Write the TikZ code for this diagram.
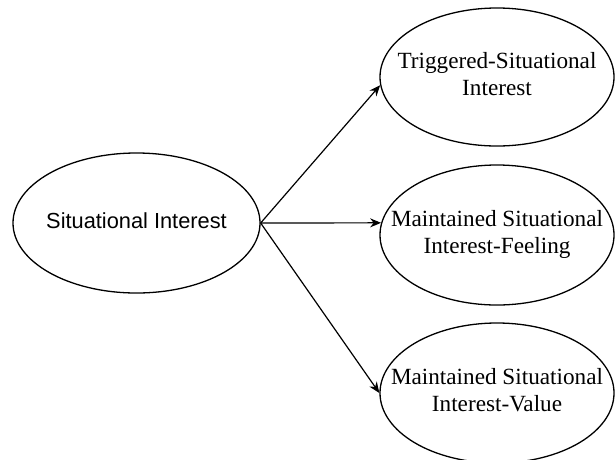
\documentclass[tikz,border=0pt]{standalone}
\usepackage{fontspec}
\setmainfont{Liberation Serif}
\newfontfamily\arialfont{Liberation Sans}
\usetikzlibrary{shapes.geometric,arrows.meta}

% text of a fixed-size ellipse, kept out of the shape size
\newcommand{\ovaltext}[1]{\makebox[0pt]{\begin{tabular}{@{}c@{}}#1\end{tabular}}}

\tikzset{
  interest/.style={draw,ellipse,line width=1.3pt,inner sep=0pt,minimum width=234pt,minimum height=138pt,
    font=\fontsize{23.2}{27}\selectfont},
  link/.style={line width=1.2pt,-{Stealth[length=11pt,width=9pt]}}
}

\begin{document}
\begin{tikzpicture}[x=1pt,y=-1pt]
            \useasboundingbox (0,0) rectangle (615,459);
            \node[interest,minimum width=247pt,minimum height=140pt,font=\arialfont\fontsize{21.8}{25}\selectfont] (sit) at (136.5,223) {\ovaltext{Situational Interest}};
            \node[interest] (trig) at (497,77) {\ovaltext{Triggered-Situational\\Interest}};
            \node[interest,minimum height=140pt] (feel) at (497,235) {\ovaltext{Maintained Situational\\Interest-Feeling}};
            \node[interest,minimum height=140pt] (value) at (497,393) {\ovaltext{Maintained Situational\\Interest-Value}};
            \draw[link] (sit.east) -- (trig.184);
            \draw[link] (sit.east) -- (feel.174);
            \draw[link] (sit.east) -- (value.west);
\end{tikzpicture}
\end{document}
